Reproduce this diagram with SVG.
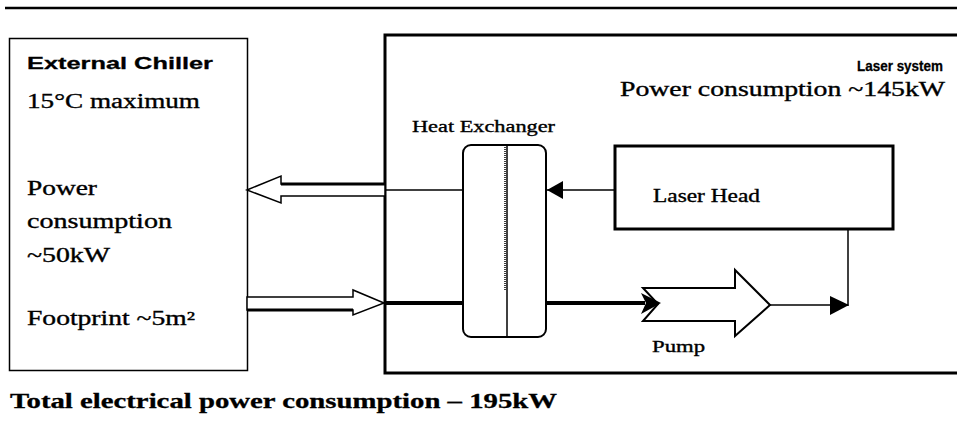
<svg xmlns="http://www.w3.org/2000/svg" width="957" height="423" viewBox="0 0 957 423">
<style>
.ln{stroke:#000;fill:none}
.box{stroke:#000;fill:#fff}
.serif{font-family:"Liberation Serif","Times New Roman",serif;fill:#000;stroke:#000;stroke-width:0.35}
.sansb{font-family:"Liberation Sans",Arial,sans-serif;font-weight:bold;fill:#000;stroke:#000;stroke-width:0.3}
.serifb{font-family:"Liberation Serif","Times New Roman",serif;font-weight:bold;fill:#000;stroke:#000;stroke-width:0.3}
</style>
<rect x="0" y="0" width="957" height="423" fill="#fff"/>
<line class="ln" x1="5" y1="8" x2="957" y2="8" stroke-width="2.5" stroke="#222"/>

<g id="chiller">
<rect class="box" x="9.5" y="38.5" width="238" height="332" stroke-width="1.5"/>
<text class="sansb" x="27" y="69" font-size="17" textLength="186" lengthAdjust="spacingAndGlyphs">External Chiller</text>
<text class="serif" x="27" y="108" font-size="20" textLength="173" lengthAdjust="spacingAndGlyphs">15°C maximum</text>
<text class="serif" x="27" y="195" font-size="20" textLength="70" lengthAdjust="spacingAndGlyphs">Power</text>
<text class="serif" x="27" y="228" font-size="20" textLength="145" lengthAdjust="spacingAndGlyphs">consumption</text>
<text class="serif" x="27" y="262" font-size="20" textLength="83" lengthAdjust="spacingAndGlyphs">~50kW</text>
<text class="serif" x="27" y="325" font-size="20" textLength="168" lengthAdjust="spacingAndGlyphs">Footprint ~5m²</text>
</g>

<g id="laser-system">
<rect class="box" x="385" y="35" width="600" height="338" stroke-width="3"/>
<text class="sansb" x="857" y="71" font-size="15" textLength="86" lengthAdjust="spacingAndGlyphs">Laser system</text>
<text class="serif" x="620" y="96" font-size="20" textLength="325" lengthAdjust="spacingAndGlyphs">Power consumption ~145kW</text>
</g>

<g id="connectors">
<polygon class="box" points="247,190 281,176 281,184 385,184 385,196 281,196 281,203" stroke-width="1.5"/>
<line class="ln" x1="281" y1="184" x2="385" y2="184" stroke-width="3"/>
<polygon class="box" points="247,297 353,297 353,290 384,303 353,315 353,310 247,310" stroke-width="1.5"/>
<line class="ln" x1="247" y1="310" x2="353" y2="310" stroke-width="3"/>
<line class="ln" x1="385" y1="190" x2="463" y2="190" stroke-width="1.5"/>
<line class="ln" x1="384" y1="303" x2="463" y2="303" stroke-width="4"/>
<line class="ln" x1="546" y1="190" x2="615" y2="190" stroke-width="1.5"/>
<polygon points="547,190 563,181 563,199" fill="#000"/>
<line class="ln" x1="546" y1="303" x2="645" y2="303" stroke-width="4"/>
<line class="ln" x1="770" y1="305" x2="848" y2="305" stroke-width="1.5"/>
<polyline class="ln" points="848,229 848,306" stroke-width="1.5"/>
<polygon points="849,305 830,296 830,315" fill="#000"/>
</g>

<g id="heat-exchanger">
<rect class="box" x="463" y="145" width="83" height="192" rx="8" stroke-width="2"/>
<line class="ln" x1="507" y1="145" x2="507" y2="337" stroke-width="1.5"/>
<line class="ln" x1="505" y1="147" x2="505" y2="290" stroke-width="1.5" stroke-dasharray="1,1"/>
<text class="serif" x="412" y="132" font-size="16" textLength="143" lengthAdjust="spacingAndGlyphs">Heat Exchanger</text>
</g>

<g id="laser-head">
<rect class="box" x="615" y="146" width="278" height="83" stroke-width="3"/>
<text class="serif" x="653" y="202" font-size="18" textLength="107" lengthAdjust="spacingAndGlyphs">Laser Head</text>
</g>

<g id="pump">
<polygon class="box" points="643,288 735,288 735,270 770,305 735,336 735,321 643,321 658,304" stroke-width="2"/>
<polygon points="661,303 641,293 646,303 641,314" fill="#000"/>
<text class="serif" x="652" y="352" font-size="16" textLength="53" lengthAdjust="spacingAndGlyphs">Pump</text>
</g>

<g id="total">
<text class="serifb" x="10" y="408" font-size="21" textLength="547" lengthAdjust="spacingAndGlyphs">Total electrical power consumption – 195kW</text>
</g>
</svg>
